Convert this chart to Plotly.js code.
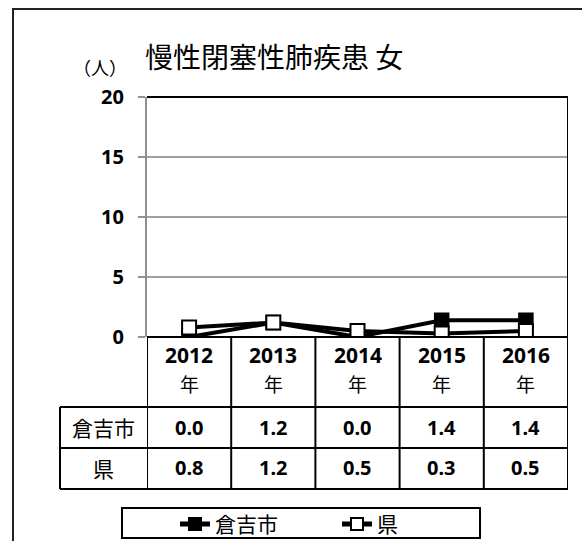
<!DOCTYPE html>
<html><head><meta charset="utf-8">
<script src="https://cdn.plot.ly/plotly-3.0.1.min.js"></script>
<style>html,body{margin:0;padding:0;background:#fff}#c{width:582px;height:541px}</style>
</head><body><div id="c"></div>
<script>
var years = ["2012", "2013", "2014", "2015", "2016"];
var yearSuffix = "年";
var seriesNames = ["倉吉市", "県"];
var kurayoshi = [0.0, 1.2, 0.0, 1.4, 1.4];
var prefecture = [0.8, 1.2, 0.5, 0.3, 0.5];
var yTicks = [0, 5, 10, 15, 20];
var titleText = "慢性閉塞性肺疾患 女";
var unitText = "（人）";

var F = "Noto Sans, Noto Sans CJK JP, sans-serif";
var FJ = "Noto Sans CJK JP, Noto Sans, sans-serif";

var traces = [
  {x: years, y: kurayoshi, name: seriesNames[0], type: "scatter", mode: "lines+markers",
   line: {color: "#000", width: 4},
   marker: {symbol: "square", size: 14, color: "#000", line: {color: "#000", width: 1.5}}},
  {x: years, y: prefecture, name: seriesNames[1], type: "scatter", mode: "lines+markers",
   line: {color: "#000", width: 4},
   marker: {symbol: "square", size: 14, color: "#fff", line: {color: "#000", width: 2}}}
];

var yHead = -0.2917, yRow1 = -0.4625, yBot = -0.6333, xLeftCol = -0.2067;
var shapes = [];
function L(xref, x0, x1, y0, y1, col, w) {
  shapes.push({type: "line", xref: xref, yref: "paper", x0: x0, x1: x1, y0: y0, y1: y1,
    line: {color: col || "#000", width: w || 2}});
}
L("x", -0.5, 4.5, 1, 1);
L("x", 4.5, 4.5, 1, yBot);
L("x", -0.5, 4.5, 0, 0);
[yHead, yRow1, yBot].forEach(function (yy) {
  shapes.push({type: "line", xref: "paper", yref: "paper", x0: xLeftCol, x1: 1, y0: yy, y1: yy,
    line: {color: "#000", width: 2}});
});
for (var k = 0; k < years.length; k++) L("x", k - 0.5, k - 0.5, 0, yBot);
shapes.push({type: "line", xref: "paper", yref: "paper", x0: xLeftCol, x1: xLeftCol, y0: yHead, y1: yBot,
  line: {color: "#000", width: 2}});
// outer frame
shapes.push({type: "rect", xref: "paper", yref: "paper", x0: -0.3183, x1: 1.2, y0: -1.2, y1: 1.3667,
  line: {color: "#222", width: 2}, layer: "below"});
// legend box
shapes.push({type: "rect", xref: "paper", yref: "paper", x0: -0.0594, x1: 0.791, y0: -0.8375, y1: -0.7125,
  line: {color: "#000", width: 2}, layer: "below"});

var ann = [];
years.forEach(function (yr, i) {
  ann.push({xref: "x", yref: "paper", x: i, y: -0.075, text: "<b>" + yr + "</b>", showarrow: false,
    font: {family: F, size: 21, color: "#000"}, xanchor: "center", yanchor: "middle"});
  ann.push({xref: "x", yref: "paper", x: i, y: -0.1917, text: yearSuffix, showarrow: false,
    font: {family: FJ, size: 19, color: "#000"}, xanchor: "center", yanchor: "middle"});
  ann.push({xref: "x", yref: "paper", x: i, y: -0.375, text: "<b>" + kurayoshi[i].toFixed(1) + "</b>", showarrow: false,
    font: {family: F, size: 20, color: "#000"}, xanchor: "center", yanchor: "middle"});
  ann.push({xref: "x", yref: "paper", x: i, y: -0.5458, text: "<b>" + prefecture[i].toFixed(1) + "</b>", showarrow: false,
    font: {family: F, size: 20, color: "#000"}, xanchor: "center", yanchor: "middle"});
});
ann.push({xref: "paper", yref: "paper", x: xLeftCol / 2, y: -0.375, text: seriesNames[0], showarrow: false,
  font: {family: FJ, size: 21, color: "#000"}, xanchor: "center", yanchor: "middle"});
ann.push({xref: "paper", yref: "paper", x: xLeftCol / 2, y: -0.5458, text: seriesNames[1], showarrow: false,
  font: {family: FJ, size: 21, color: "#000"}, xanchor: "center", yanchor: "middle"});
ann.push({xref: "paper", yref: "paper", x: -0.112, y: 1.125, text: unitText, showarrow: false,
  font: {family: FJ, size: 18, color: "#000"}, xanchor: "center", yanchor: "middle"});

var layout = {
  width: 582, height: 541,
  margin: {l: 147, r: 14, t: 97, b: 204, pad: 0, autoexpand: false},
  paper_bgcolor: "#fff", plot_bgcolor: "#fff",
  title: {text: titleText, x: 0.249, xanchor: "left", xref: "container", y: 0.893, yanchor: "middle", yref: "container",
    font: {family: FJ, size: 28, color: "#000"}},
  xaxis: {type: "category", range: [-0.5, 4.5], showticklabels: false, ticks: "", showgrid: false,
    zeroline: false, showline: false, fixedrange: true},
  yaxis: {range: [0, 20], tickvals: yTicks, ticktext: yTicks.map(String), showgrid: true, gridcolor: "#a0a0a0", gridwidth: 1.5,
    zeroline: false, showline: true, linecolor: "#909090", linewidth: 2, ticks: "outside", ticklen: 7, tickcolor: "#909090",
    tickwidth: 1.5, ticklabelstandoff: 10, tickfont: {family: F, size: 20, color: "#000", weight: "bold"}},
  showlegend: true,
  legend: {orientation: "h", x: 0.0665, xanchor: "left", y: -0.695, yanchor: "top",
    borderwidth: 0, bgcolor: "rgba(0,0,0,0)",
    font: {family: FJ, size: 21, color: "#000"}, entrywidth: 117, itemsizing: "constant"},
  shapes: shapes, annotations: ann
};
Plotly.newPlot("c", traces, layout, {displayModeBar: false, staticPlot: true});
</script></body></html>
